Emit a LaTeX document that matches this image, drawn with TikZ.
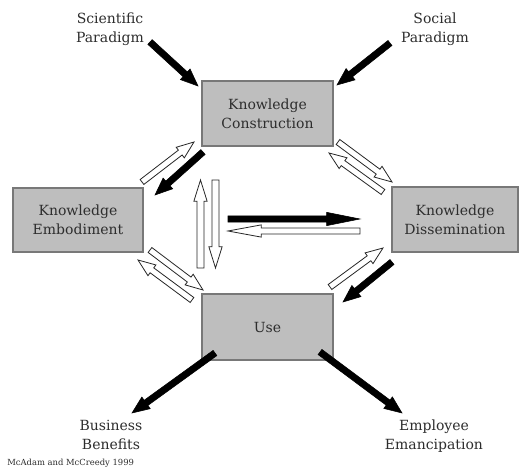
\documentclass[tikz,border=0pt]{standalone}
\usepackage{fontspec}
\setmainfont{DejaVu Serif}
\usetikzlibrary{calc}
\definecolor{boxfill}{RGB}{190,190,190}
\definecolor{boxline}{RGB}{120,120,120}
\definecolor{txt}{RGB}{45,45,45}
% block arrow: #1 style, #2 shaft half width, #3 head half width, #4 head length, #5 tail, #6 tip
\newcommand\blockarr[6]{%
  \coordinate (ba-h) at ($(#6)!#4!(#5)$);
  \draw[#1] ($(#5)!#2!90:(#6)$) -- ($(ba-h)!#2!-90:(#5)$) -- ($(ba-h)!#3!-90:(#5)$)
    -- (#6) -- ($(ba-h)!#3!90:(#5)$) -- ($(ba-h)!#2!90:(#5)$) -- ($(#5)!#2!-90:(#6)$) -- cycle;}
\begin{document}
\begin{tikzpicture}[x=0.75pt,y=-0.75pt,
  box/.style={draw=boxline, line width=1.3pt, fill=boxfill, align=center, inner sep=0pt,
    text=txt, font=\fontsize{10.5}{14.5}\selectfont},
  lbl/.style={align=center, text=txt, inner sep=0pt, font=\fontsize{10.5}{14.5}\selectfont},
  blk/.style={fill=black, draw=black, line width=0.4pt, line join=miter},
  wht/.style={fill=white, draw=black!85, line width=0.6pt, line join=miter}]
\fill[white] (0,0) rectangle (519,470);
\useasboundingbox (0,0) rectangle (519,470);
% boxes
\node[box, minimum width=98pt, minimum height=48.5pt] (kc) at (267.5,113.5) {Knowledge\\Construction};
\node[box, minimum width=97.5pt, minimum height=48pt] (ke) at (78,220) {Knowledge\\Embodiment};
\node[box, minimum width=94.5pt, minimum height=48.5pt] (kd) at (455,219.5) {Knowledge\\Dissemination};
\node[box, minimum width=98pt, minimum height=49.5pt] (use) at (267.5,327) {Use};
% labels
\node[lbl] (sci) at (110,29) {Scientific\\Paradigm};
\node[lbl] (soc) at (435,29) {Social\\Paradigm};
\node[lbl] (bus) at (111,435) {Business\\Benefits};
\node[lbl] (emp) at (434,436) {Employee\\Emancipation};
\node[text=txt, inner sep=0pt, anchor=west, font=\fontsize{6.3}{7}\selectfont] (cite) at (7,463) {McAdam and McCreedy 1999};
% connector end points
\coordinate (sciA) at (150,42);   \coordinate (sciB) at (198,86);
\coordinate (socA) at (390,43);   \coordinate (socB) at (337,85);
\coordinate (ckA) at (203,152);   \coordinate (ckB) at (155,195);
\coordinate (duA) at (392,262);   \coordinate (duB) at (343,302);
\coordinate (ubA) at (215,353);   \coordinate (ubB) at (132,413);
\coordinate (ueA) at (320,352);   \coordinate (ueB) at (402,413);
\coordinate (kcA) at (142,182);   \coordinate (kcB) at (194,142);
\coordinate (dcA) at (383,192);   \coordinate (dcB) at (329,153);
\coordinate (cdA) at (338,142);   \coordinate (cdB) at (392,182);
\coordinate (euA) at (150,250);   \coordinate (euB) at (203,290);
\coordinate (ueeA) at (192,300);  \coordinate (ueeB) at (138,260);
\coordinate (udA) at (330,287);   \coordinate (udB) at (383,248);
\coordinate (upA) at (200.5,268); \coordinate (upB) at (200.5,180);
\coordinate (dnA) at (215.5,180); \coordinate (dnB) at (215.5,268);
\coordinate (hbA) at (228,219);   \coordinate (hbB) at (360,219);
\coordinate (hwA) at (360,231);   \coordinate (hwB) at (228,231);
% black arrows
\blockarr{blk}{2.4pt}{5.4pt}{13pt}{sciA}{sciB}
\blockarr{blk}{2.4pt}{5.4pt}{13pt}{socA}{socB}
\blockarr{blk}{2.4pt}{5.4pt}{13pt}{ckA}{ckB}
\blockarr{blk}{2.4pt}{5.4pt}{13pt}{duA}{duB}
\blockarr{blk}{2.4pt}{5.4pt}{13pt}{ubA}{ubB}
\blockarr{blk}{2.4pt}{5.4pt}{13pt}{ueA}{ueB}
\blockarr{blk}{2.3pt}{5pt}{25pt}{hbA}{hbB}
% white arrows
\blockarr{wht}{2.3pt}{5pt}{13pt}{kcA}{kcB}
\blockarr{wht}{2.3pt}{5pt}{13pt}{dcA}{dcB}
\blockarr{wht}{2.3pt}{5pt}{13pt}{cdA}{cdB}
\blockarr{wht}{2.3pt}{5pt}{13pt}{euA}{euB}
\blockarr{wht}{2.3pt}{5pt}{13pt}{ueeA}{ueeB}
\blockarr{wht}{2.3pt}{5pt}{13pt}{udA}{udB}
\blockarr{wht}{2.6pt}{5pt}{16pt}{upA}{upB}
\blockarr{wht}{2.6pt}{5pt}{16pt}{dnA}{dnB}
\blockarr{wht}{2.2pt}{4.6pt}{25pt}{hwA}{hwB}
\end{tikzpicture}
\end{document}
